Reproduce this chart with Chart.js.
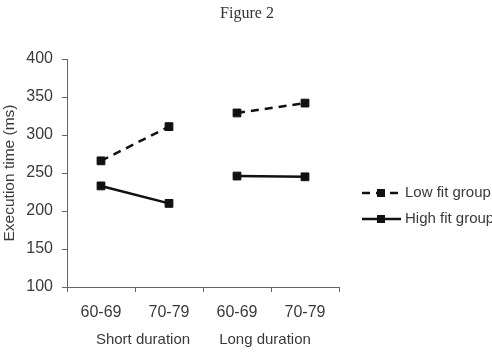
<!DOCTYPE html>
<html>
<head>
<meta charset="utf-8">
<script src="https://cdn.jsdelivr.net/npm/chart.js@4.4.0/dist/chart.umd.min.js"></script>
<style>
  body { margin: 0; background: #fff; }
  #wrap { width: 492px; height: 359px; }
</style>
</head>
<body>
<div id="wrap"><canvas id="fig2" width="492" height="359"></canvas></div>
<script>
// Data
const ageLabels = ['60-69', '70-79', '60-69', '70-79'];
const groupLabels = ['Short duration', 'Long duration'];
const lowFit = [266, 311, 329, 342];
const highFit = [233, 210, 246, 245];
const seriesNames = ['Low fit group', 'High fit group'];
const yTicks = [100, 150, 200, 250, 300, 350, 400];
const figTitle = 'Figure 2';

const textColor = '#3a3a3a';
const axisColor = '#666';
const sans = '"Liberation Sans", Arial, sans-serif';

// no line between the two duration groups
function skipGap(ctx) {
    return ctx.p0DataIndex === 1 ? 'rgba(0,0,0,0)' : undefined;
}

// Title, group labels under the x axis + custom legend
const extrasPlugin = {
    id: 'extras',
    afterDraw(chart) {
        const ctx = chart.ctx;
        const x = chart.scales.x;
        ctx.save();
        ctx.fillStyle = '#333';
        ctx.textAlign = 'center';
        ctx.textBaseline = 'middle';
        ctx.font = '16px "Liberation Serif", "Times New Roman", serif';
        ctx.fillText(figTitle, 247, 14);

        ctx.font = '15px ' + sans;
        ctx.fillStyle = textColor;
        groupLabels.forEach((g, i) => {
            const cx = (x.getPixelForValue(i * 2) + x.getPixelForValue(i * 2 + 1)) / 2;
            ctx.fillText(g, cx + (i === 0 ? 8 : -6), 340);
        });

        // legend
        const rows = [193, 219];
        chart.data.datasets.forEach((ds, i) => {
            const y = rows[i];
            ctx.strokeStyle = '#111';
            ctx.lineWidth = 2.5;
            ctx.setLineDash(ds.borderDash || []);
            ctx.beginPath();
            ctx.moveTo(362, y);
            ctx.lineTo(401, y);
            ctx.stroke();
            ctx.setLineDash([]);
            ctx.fillStyle = '#111';
            ctx.fillRect(377, y - 4, 8, 8);
            ctx.fillStyle = textColor;
            ctx.textAlign = 'left';
            ctx.font = '15px ' + sans;
            ctx.fillText(ds.label, 405, y);
        });
        ctx.restore();
    }
};

function initChart() {
    const ctx = document.getElementById('fig2').getContext('2d');
    new Chart(ctx, {
        type: 'line',
        data: {
            labels: ageLabels,
            datasets: [{
                label: seriesNames[0],
                data: lowFit,
                borderColor: '#111',
                backgroundColor: '#111',
                borderWidth: 2.5,
                borderDash: [8, 6],
                pointStyle: 'rect',
                pointRadius: 5.5,
                pointBorderWidth: 1,
                segment: { borderColor: skipGap }
            }, {
                label: seriesNames[1],
                data: highFit,
                borderColor: '#111',
                backgroundColor: '#111',
                borderWidth: 2.5,
                pointStyle: 'rect',
                pointRadius: 5.5,
                pointBorderWidth: 1,
                segment: { borderColor: skipGap }
            }]
        },
        options: {
            responsive: false,
            animation: false,
            layout: { padding: { left: 0, right: 153, top: 59, bottom: 0 } },
            plugins: {
                legend: { display: false },
                tooltip: { enabled: false },
                title: { display: false }
            },
            scales: {
                x: {
                    offset: true,
                    border: { color: axisColor, width: 1 },
                    grid: { offset: true, drawOnChartArea: false, tickLength: 5, color: axisColor },
                    ticks: {
                        color: textColor,
                        padding: 11,
                        font: { family: sans, size: 16 }
                    },
                    afterFit(scale) { scale.height = 72; }
                },
                y: {
                    min: 100,
                    max: 400,
                    border: { color: axisColor, width: 1 },
                    grid: { drawOnChartArea: false, tickLength: 5, color: axisColor },
                    afterBuildTicks(scale) { scale.ticks = yTicks.map(v => ({ value: v })); },
                    ticks: {
                        color: textColor,
                        padding: 9,
                        font: { family: sans, size: 16 }
                    },
                    title: {
                        display: true,
                        text: 'Execution time (ms)',
                        color: textColor,
                        padding: 0,
                        font: { family: sans, size: 15.5 }
                    },
                    afterFit(scale) { scale.width = 67; }
                }
            }
        },
        plugins: [extrasPlugin]
    });
}

document.addEventListener('DOMContentLoaded', initChart);
</script>
</body>
</html>
